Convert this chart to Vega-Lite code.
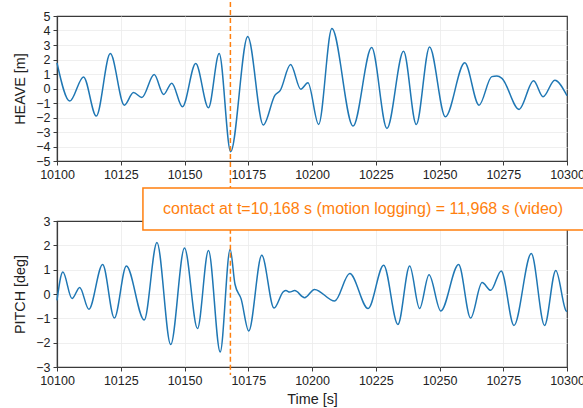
{
  "$schema": "https://vega.github.io/schema/vega-lite/v6.json",
  "padding": {"left": 12, "top": 0, "right": 0, "bottom": 0},
  "background": "white",
  "datasets": {
    "heave": [
      {"t": 10100, "v": 1.77}, {"t": 10105.0, "v": -0.87}, {"t": 10110.4, "v": 0.80}, {"t": 10115.4, "v": -1.90},
      {"t": 10120.9, "v": 2.41}, {"t": 10126.4, "v": -1.15}, {"t": 10130.0, "v": -0.28}, {"t": 10133.3, "v": -0.62},
      {"t": 10138.1, "v": 0.96}, {"t": 10141.8, "v": -0.41}, {"t": 10145.0, "v": 0.37}, {"t": 10149.2, "v": -1.26},
      {"t": 10154.4, "v": 1.72}, {"t": 10159.4, "v": -1.33}, {"t": 10163.6, "v": 2.41}, {"t": 10168.1, "v": -4.36},
      {"t": 10174.8, "v": 3.58}, {"t": 10180.9, "v": -2.52}, {"t": 10185.5, "v": -0.46}, {"t": 10187.5, "v": -0.15},
      {"t": 10191.6, "v": 1.65}, {"t": 10195.6, "v": -0.05}, {"t": 10198.4, "v": 0.39}, {"t": 10202.6, "v": -2.48},
      {"t": 10207.8, "v": 4.13}, {"t": 10216.1, "v": -2.59}, {"t": 10223.4, "v": 2.82}, {"t": 10229.4, "v": -2.75},
      {"t": 10235.9, "v": 2.57}, {"t": 10240.9, "v": -2.48}, {"t": 10246.1, "v": 2.87}, {"t": 10252.3, "v": -1.95},
      {"t": 10259.9, "v": 1.77}, {"t": 10265.5, "v": -1.15}, {"t": 10270.5, "v": 0.82}, {"t": 10272.5, "v": 0.86},
      {"t": 10274.5, "v": 0.70}, {"t": 10281.2, "v": -1.44}, {"t": 10286.9, "v": 0.53}, {"t": 10290.6, "v": -0.57},
      {"t": 10295.2, "v": 0.57}, {"t": 10300, "v": -0.50}
    ],
    "pitch": [
      {"t": 10100, "v": -0.26}, {"t": 10102.3, "v": 0.90}, {"t": 10105.9, "v": -0.19}, {"t": 10108.9, "v": 0.27},
      {"t": 10112.5, "v": -0.63}, {"t": 10117.9, "v": 1.21}, {"t": 10122.5, "v": -0.99}, {"t": 10127.2, "v": 1.15},
      {"t": 10134.2, "v": -1.07}, {"t": 10139.2, "v": 2.12}, {"t": 10144.6, "v": -2.08}, {"t": 10150.0, "v": 1.89},
      {"t": 10155.1, "v": -1.42}, {"t": 10159.4, "v": 1.79}, {"t": 10164.0, "v": -2.38}, {"t": 10167.9, "v": 1.84},
      {"t": 10169.8, "v": 0.40}, {"t": 10172.2, "v": -0.20}, {"t": 10175.2, "v": -1.52}, {"t": 10180.3, "v": 1.59},
      {"t": 10185.1, "v": -0.58}, {"t": 10188.8, "v": 0.10}, {"t": 10189.8, "v": 0.14}, {"t": 10191.2, "v": 0.08},
      {"t": 10193.2, "v": 0.14}, {"t": 10197.1, "v": -0.15}, {"t": 10201.0, "v": 0.19}, {"t": 10208.9, "v": -0.29},
      {"t": 10214.8, "v": 0.84}, {"t": 10222.0, "v": -0.60}, {"t": 10228.1, "v": 1.18}, {"t": 10233.7, "v": -1.25},
      {"t": 10238.3, "v": 1.15}, {"t": 10242.2, "v": -0.60}, {"t": 10245.9, "v": 0.79}, {"t": 10250.5, "v": -0.70},
      {"t": 10257.5, "v": 1.21}, {"t": 10262.2, "v": -0.99}, {"t": 10266.7, "v": 0.47}, {"t": 10270.1, "v": 0.15},
      {"t": 10274.2, "v": 0.95}, {"t": 10279.2, "v": -1.29}, {"t": 10286.0, "v": 1.66}, {"t": 10291.2, "v": -1.29},
      {"t": 10295.6, "v": 0.97}, {"t": 10299.7, "v": -0.70}, {"t": 10300, "v": -0.72}
    ],
    "contact": [
      {"t": 10168, "label": "contact at t=10,168 s (motion logging) = 11,968 s (video)"}
    ]
  },
  "spacing": 60,
  "bounds": "flush",
  "vconcat": [
    {
      "width": 510,
      "height": 145,
      "layer": [
        {
          "data": {"name": "heave"},
          "mark": {"type": "line", "interpolate": "monotone", "color": "#1f77b4", "strokeWidth": 1.5},
          "encoding": {
            "x": {"field": "t", "type": "quantitative", "scale": {"domain": [10100, 10300], "nice": false, "zero": false},
                  "axis": {"title": null, "values": [10100, 10125, 10150, 10175, 10200, 10225, 10250, 10275, 10300], "format": "d",
                           "gridOpacity": {"condition": {"test": "datum.value <= 10100 || datum.value >= 10300", "value": 0}, "value": 1}}},
            "y": {"field": "v", "type": "quantitative", "scale": {"domain": [-5, 5], "nice": false},
                  "axis": {"title": "HEAVE [m]", "values": [-5, -4, -3, -2, -1, 0, 1, 2, 3, 4, 5], "format": "d",
                           "gridOpacity": {"condition": {"test": "datum.value <= -5 || datum.value >= 5", "value": 0}, "value": 1}}}
          }
        },
        {
          "data": {"name": "contact"},
          "mark": {"type": "rule", "color": "#ff7f0e", "strokeDash": [5, 3], "strokeWidth": 1.5},
          "encoding": {
            "x": {"field": "t", "type": "quantitative",
                  "axis": {"title": null, "values": [10100, 10125, 10150, 10175, 10200, 10225, 10250, 10275, 10300], "format": "d",
                           "gridOpacity": {"condition": {"test": "datum.value <= 10100 || datum.value >= 10300", "value": 0}, "value": 1}}},
            "y": {"datum": 5.96,
                  "axis": {"title": "HEAVE [m]", "values": [-5, -4, -3, -2, -1, 0, 1, 2, 3, 4, 5], "format": "d",
                           "gridOpacity": {"condition": {"test": "datum.value <= -5 || datum.value >= 5", "value": 0}, "value": 1}}},
            "y2": {"datum": -7}
          }
        }
      ]
    },
    {
      "width": 510,
      "height": 146,
      "layer": [
        {
          "data": {"name": "pitch"},
          "mark": {"type": "line", "interpolate": "monotone", "color": "#1f77b4", "strokeWidth": 1.5},
          "encoding": {
            "x": {"field": "t", "type": "quantitative", "scale": {"domain": [10100, 10300], "nice": false, "zero": false},
                  "axis": {"title": "Time [s]", "values": [10100, 10125, 10150, 10175, 10200, 10225, 10250, 10275, 10300], "format": "d",
                           "gridOpacity": {"condition": {"test": "datum.value <= 10100 || datum.value >= 10300", "value": 0}, "value": 1}}},
            "y": {"field": "v", "type": "quantitative", "scale": {"domain": [-3, 3], "nice": false},
                  "axis": {"title": "PITCH [deg]", "values": [-3, -2, -1, 0, 1, 2, 3], "format": "d",
                           "gridOpacity": {"condition": {"test": "datum.value <= -3 || datum.value >= 3", "value": 0}, "value": 1}}}
          }
        },
        {
          "data": {"name": "contact"},
          "mark": {"type": "rule", "color": "#ff7f0e", "strokeDash": [5, 3], "strokeWidth": 1.5},
          "encoding": {
            "x": {"field": "t", "type": "quantitative",
                  "axis": {"title": "Time [s]", "values": [10100, 10125, 10150, 10175, 10200, 10225, 10250, 10275, 10300], "format": "d",
                           "gridOpacity": {"condition": {"test": "datum.value <= 10100 || datum.value >= 10300", "value": 0}, "value": 1}}},
            "y": {"datum": 4.0,
                  "axis": {"title": "PITCH [deg]", "values": [-3, -2, -1, 0, 1, 2, 3], "format": "d",
                           "gridOpacity": {"condition": {"test": "datum.value <= -3 || datum.value >= 3", "value": 0}, "value": 1}}},
            "y2": {"datum": -3.33}
          }
        },
        {
          "data": {"name": "contact"},
          "mark": {"type": "rect", "fill": "white", "stroke": "#ff7f0e", "strokeWidth": 1.5},
          "encoding": {
            "x": {"datum": 10133.7,
                  "axis": {"title": "Time [s]", "values": [10100, 10125, 10150, 10175, 10200, 10225, 10250, 10275, 10300], "format": "d",
                           "gridOpacity": {"condition": {"test": "datum.value <= 10100 || datum.value >= 10300", "value": 0}, "value": 1}}},
            "x2": {"datum": 10330},
            "y": {"datum": 4.36,
                  "axis": {"title": "PITCH [deg]", "values": [-3, -2, -1, 0, 1, 2, 3], "format": "d",
                           "gridOpacity": {"condition": {"test": "datum.value <= -3 || datum.value >= 3", "value": 0}, "value": 1}}},
            "y2": {"datum": 2.63}
          }
        },
        {
          "data": {"name": "contact"},
          "mark": {"type": "text", "align": "left", "baseline": "middle", "color": "#ff7f0e", "fontSize": 16, "font": "Liberation Sans"},
          "encoding": {
            "x": {"datum": 10141.6,
                  "axis": {"title": "Time [s]", "values": [10100, 10125, 10150, 10175, 10200, 10225, 10250, 10275, 10300], "format": "d",
                           "gridOpacity": {"condition": {"test": "datum.value <= 10100 || datum.value >= 10300", "value": 0}, "value": 1}}},
            "y": {"datum": 3.49,
                  "axis": {"title": "PITCH [deg]", "values": [-3, -2, -1, 0, 1, 2, 3], "format": "d",
                           "gridOpacity": {"condition": {"test": "datum.value <= -3 || datum.value >= 3", "value": 0}, "value": 1}}},
            "text": {"field": "label"}
          }
        }
      ]
    }
  ],
  "config": {
    "font": "Liberation Sans",
    "view": {"stroke": "#3a3a3a", "strokeWidth": 1.2},
    "axis": {
      "labelFont": "Liberation Sans",
      "labelFontSize": 12.5,
      "labelColor": "#222222",
      "titleFont": "Liberation Sans",
      "titleFontSize": 14.4,
      "titleFontWeight": "normal",
      "titleColor": "#222222",
      "gridColor": "#ebebeb",
      "gridWidth": 0.8,
      "domainColor": "#3a3a3a",
      "domainWidth": 1.2,
      "tickColor": "#3a3a3a",
      "tickSize": 4,
      "labelPadding": 3,
      "labelOverlap": false,
      "labelFlush": false,
      "titlePadding": 8
    },
    "axisX": {"titlePadding": 6}
  }
}
